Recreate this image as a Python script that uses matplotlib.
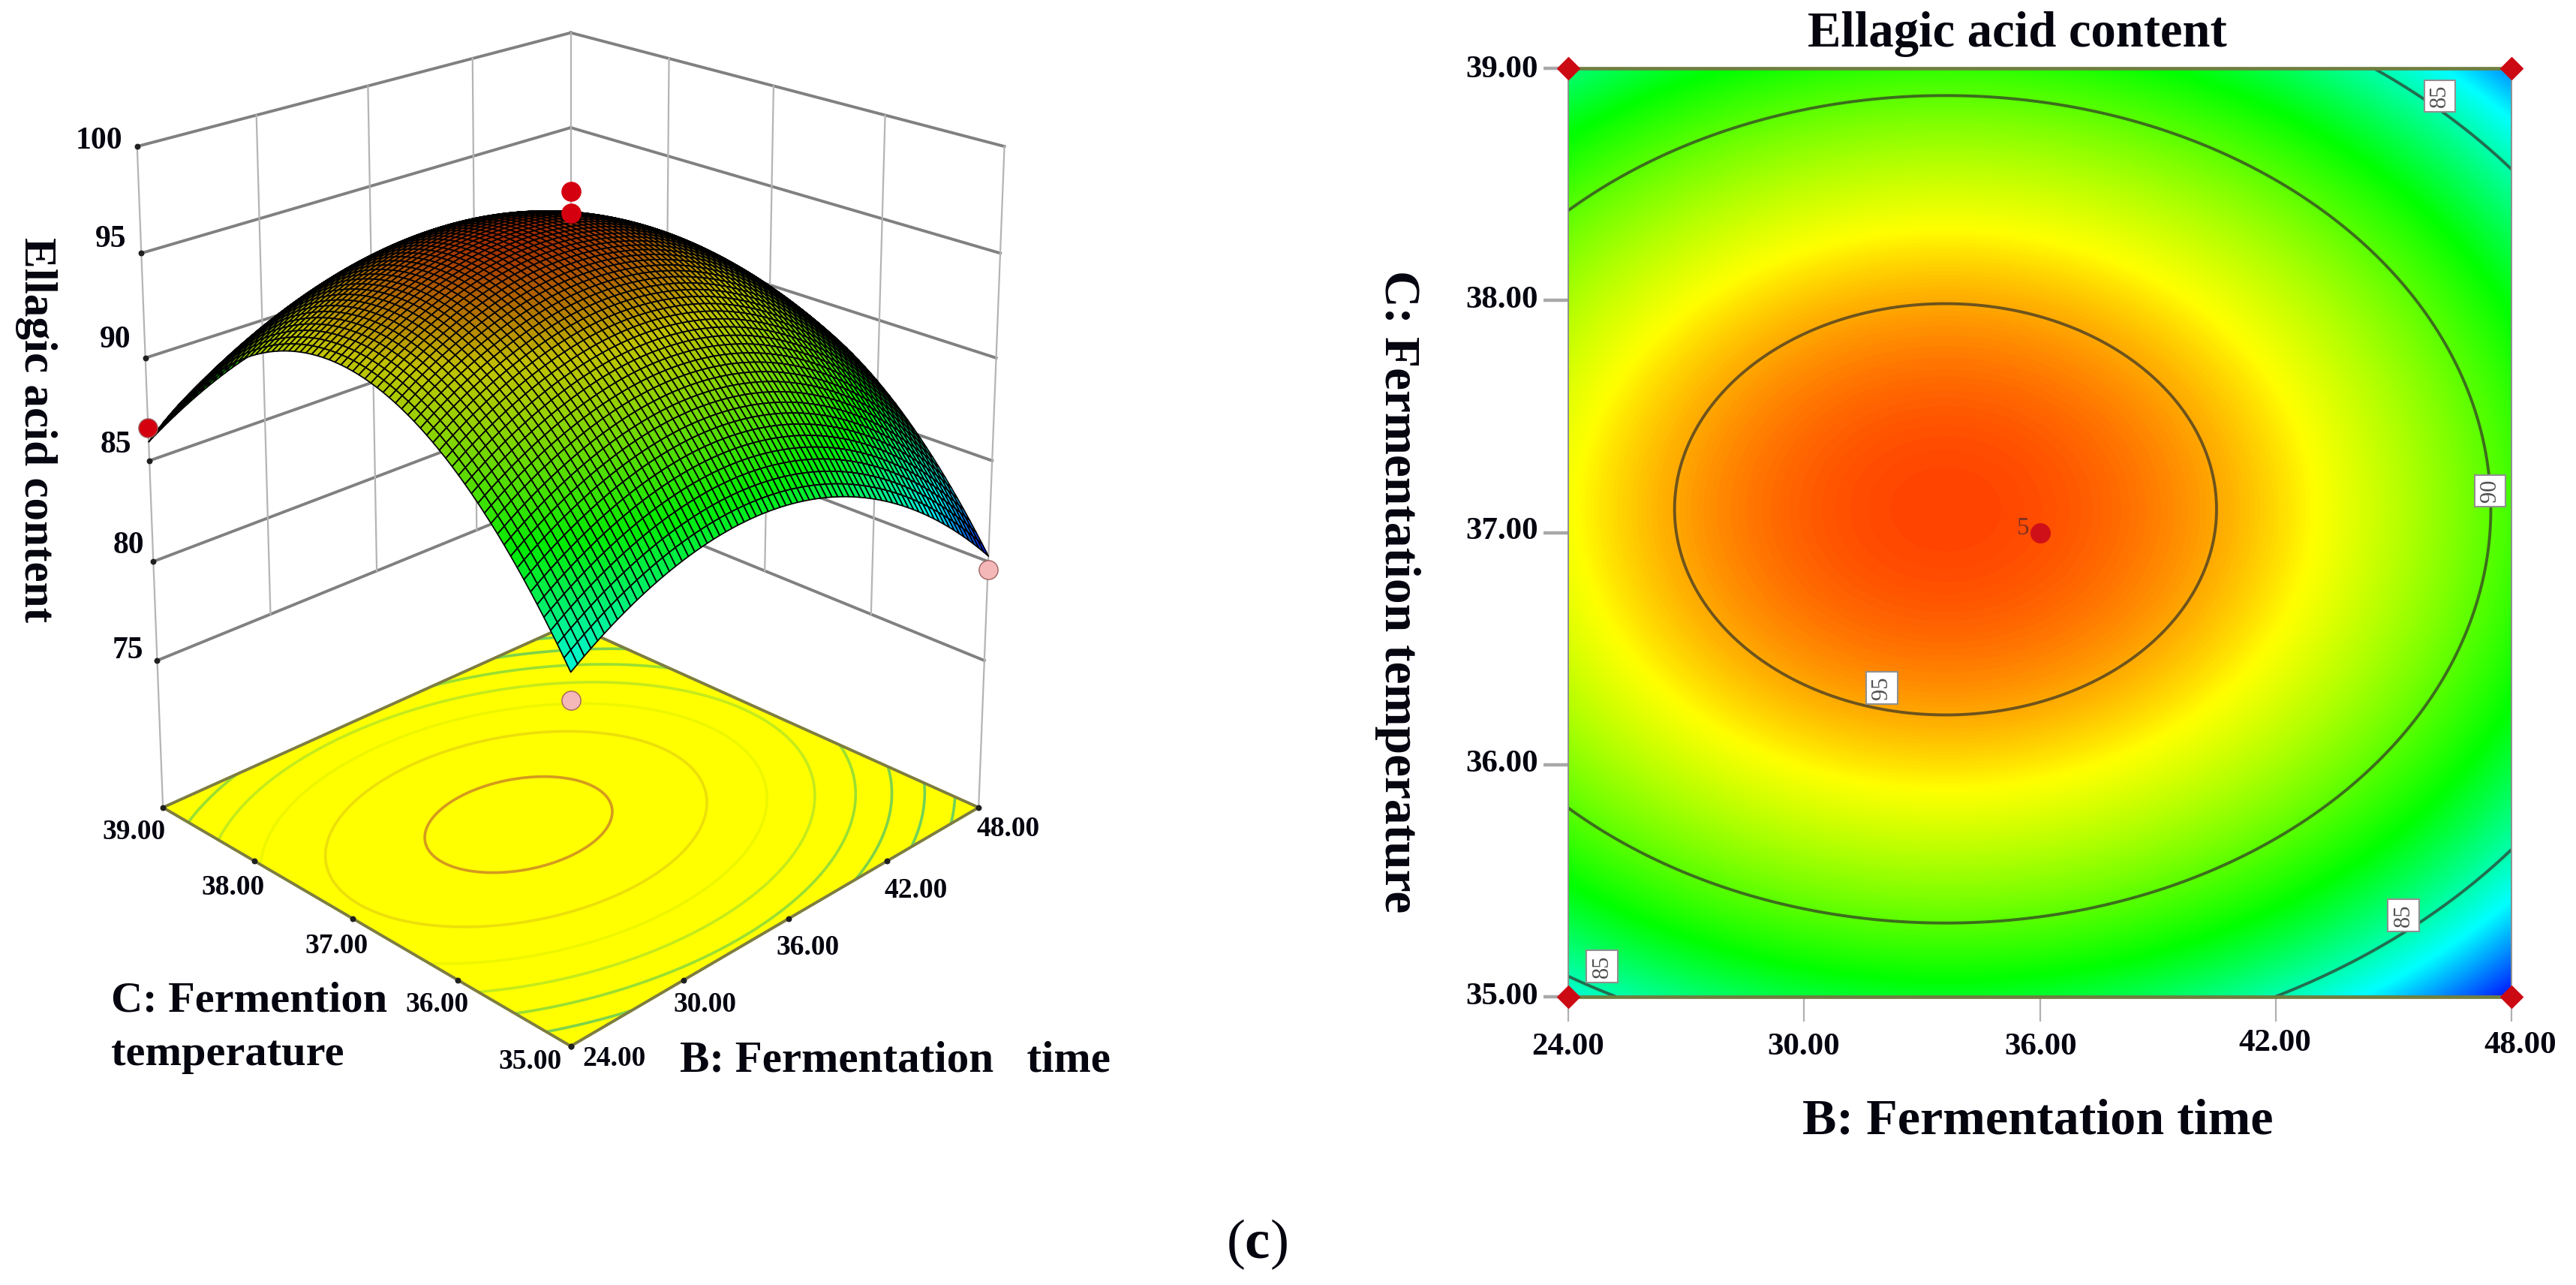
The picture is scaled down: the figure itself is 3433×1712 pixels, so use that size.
"""Response surface and contour plot of ellagic acid content."""

import matplotlib

matplotlib.use("Agg")
import matplotlib.pyplot as plt
import numpy as np
from matplotlib.colors import LinearSegmentedColormap, Normalize

WIDTH = 3433
HEIGHT = 1712

plt.rcParams["font.family"] = ["Liberation Serif", "DejaVu Serif"]
plt.rcParams["font.weight"] = "bold"
plt.rcParams["mathtext.fontset"] = "custom"
plt.rcParams["mathtext.rm"] = "Liberation Serif:weight=normal"
plt.rcParams["mathtext.bf"] = "Liberation Serif:weight=bold"

# Fermentation time and temperature at the tick positions
time_ticks = [24.0, 30.0, 36.0, 42.0, 48.0]
temp_ticks = [35.0, 36.0, 37.0, 38.0, 39.0]
content_ticks = [75, 80, 85, 90, 95, 100]

# Ellagic acid content, one row per temperature
content_t35 = [84.24, 86.98, 87.22, 84.99, 80.27]
content_t36 = [90.93, 93.66, 93.91, 91.68, 86.96]
content_t37 = [93.44, 96.17, 96.42, 94.19, 89.47]
content_t38 = [91.77, 94.50, 94.75, 92.51, 87.79]
content_t39 = [85.92, 88.65, 88.90, 86.66, 81.94]

# Design points: time, temperature, measured content
corner_time = [24.0, 24.0, 48.0, 48.0]
corner_temp = [35.0, 39.0, 35.0, 39.0]
corner_above = [False, True, False, True]
corner_content = [83.0, 86.6, 79.6, 83.0]
center_time = 36.0
center_temp = 37.0
center_content = [96.9, 97.9]

contour_levels = [85, 90, 95]
floor_levels = [82, 84, 86, 88, 90, 92, 94, 96]
floor_colors = [
    "#6fd25a", "#6fd25a", "#7ed24a", "#9ade32", "#c4ea1c",
    "#eef600", "#ecdf0a", "#d49a1e",
]

# label value, time, temperature
contour_labels = [
    ("85", 46.17, 38.88),
    ("90", 47.46, 37.18),
    ("95", 31.98, 36.33),
    ("85", 45.25, 35.35),
    ("85", 24.86, 35.13),
]

color_stops = [
    (80.0, "#0000ff"),
    (83.5, "#00ffff"),
    (88.0, "#00ff00"),
    (93.6, "#ffff00"),
    (97.75, "#ff0000"),
]
norm = Normalize(80.0, 97.75)
cmap = LinearSegmentedColormap.from_list(
    "response", [(norm(v), c) for v, c in color_stops]
)


def fit_surface(time_grid, temp_grid):
    """Fit a quadratic response model to the table and evaluate it on a grid."""
    tt, cc = np.meshgrid(time_ticks, temp_ticks)
    table = np.array([content_t35, content_t36, content_t37, content_t38, content_t39])

    def terms(b, c):
        return np.column_stack(
            [np.ones(b.size), b, c, b**2, c**2, b * c]
        )

    coef, *_ = np.linalg.lstsq(terms(tt.ravel(), cc.ravel()), table.ravel(), rcond=None)
    return (terms(time_grid.ravel(), temp_grid.ravel()) @ coef).reshape(time_grid.shape)


def put_text(fig, x, y, text, **kwargs):
    """Place figure text using pixel coordinates measured from the top left."""
    kwargs.setdefault("ha", "center")
    kwargs.setdefault("va", "center")
    return fig.text(x / WIDTH, 1 - y / HEIGHT, text, color="#050510", **kwargs)


def plot_surface_panel(fig):
    """Draw the 3D response surface with its walls and floor contours."""
    side_x, side_y = 1306, 1632
    cx, cy = 743, 671
    ax = fig.add_axes(
        [(cx - side_x / 2) / WIDTH, 1 - (cy + side_y / 2) / HEIGHT, side_x / WIDTH, side_y / HEIGHT],
        projection="3d",
        computed_zorder=False,
    )
    # the panel is stretched vertically, so keep the axes box as given
    ax.apply_aspect = lambda position=None: None
    floor_z = 67.4
    ax.set_xlim(24, 48)
    ax.set_ylim(35, 39)
    ax.set_zlim(floor_z, 100)
    ax.set_box_aspect((1, 1, 0.94))
    ax.set_proj_type("persp", focal_length=0.56)
    ax.view_init(elev=19, azim=-135)
    ax.set_axis_off()

    # Walls
    grid_kw = {"color": "#808080", "lw": 2.8, "zorder": 1}
    thin_kw = {"color": "#b4b4b4", "lw": 1.6, "zorder": 1}
    for z in content_ticks:
        ax.plot([24, 48], [39, 39], [z, z], **grid_kw)
        ax.plot([48, 48], [39, 35], [z, z], **grid_kw)
    for t in time_ticks[1:-1]:
        ax.plot([t, t], [39, 39], [75, 100], **thin_kw)
    for c in temp_ticks[1:-1]:
        ax.plot([48, 48], [c, c], [75, 100], **thin_kw)
    ax.plot([48, 48], [39, 39], [floor_z, 100], **thin_kw)
    ax.plot([24, 24], [39, 39], [floor_z, 100], **thin_kw)
    ax.plot([48, 48], [35, 35], [floor_z, 100], **thin_kw)

    # Floor with projected contours
    time_fl, temp_fl = np.meshgrid(np.linspace(24, 48, 121), np.linspace(35, 39, 121))
    content_fl = fit_surface(time_fl, temp_fl)
    ax.plot_surface(
        time_fl[[0, -1]][:, [0, -1]],
        temp_fl[[0, -1]][:, [0, -1]],
        np.full((2, 2), floor_z),
        color="#ffff00",
        shade=False,
        zorder=2,
    )
    ax.contour(
        time_fl, temp_fl, content_fl,
        levels=floor_levels, zdir="z", offset=floor_z,
        colors=floor_colors, linewidths=2.6, zorder=3,
    )
    edge_time = [24, 48, 48, 24, 24]
    edge_temp = [35, 35, 39, 39, 35]
    ax.plot(edge_time, edge_temp, [floor_z] * 5, color="#7d7d40", lw=2.8, zorder=4)

    # Tick marks on the floor edges and the height axis
    ax.scatter(time_ticks, [35] * 5, [floor_z] * 5, color="#202020", s=22, zorder=5, depthshade=False)
    ax.scatter([24] * 5, temp_ticks, [floor_z] * 5, color="#202020", s=22, zorder=5, depthshade=False)
    ax.scatter([24] * 6, [39] * 6, content_ticks, color="#202020", s=22, zorder=5, depthshade=False)

    # Response surface with a dense dark mesh, dimmer towards the summit
    time_s, temp_s = np.meshgrid(np.linspace(24, 48, 73), np.linspace(35, 39, 73))
    content_s = fit_surface(time_s, temp_s)
    shaded = cmap(norm(content_s))
    dim = np.interp(content_s, [84, 88, 92, 97], [0.97, 0.92, 0.82, 0.62])
    shaded[..., :3] *= dim[..., None]
    surf = ax.plot_surface(
        time_s, temp_s, content_s,
        facecolors=shaded,
        rstride=1, cstride=1, shade=False, zorder=6,
    )
    surf.set_edgecolor("#000000")
    surf.set_linewidth(1.25)

    # Design points above and below the surface
    for t, c, z, above in zip(corner_time, corner_temp, corner_content, corner_above):
        if t == 48.0 and c == 39.0:
            continue
        ax.scatter(
            [t], [c], [z], s=330, depthshade=False, zorder=7 if above else 5.5,
            color="#d40010" if above else "#f4b8b8", edgecolor="#a06060",
        )
    ax.scatter(
        [center_time] * 2, [center_temp] * 2, center_content,
        s=330, color="#d40010", depthshade=False, zorder=7,
    )

    # Labels
    label_kw = {"fontsize": 30}
    for z, (x, y) in zip(content_ticks, [(191, 867), (192, 727), (175, 593), (175, 453), (168, 319), (163, 188)]):
        put_text(fig, x, y, str(z), ha="right", **label_kw)
    temp_pos = [(706, 1415), (582, 1339), (449, 1260), (311, 1183), (179, 1108)]
    time_pos = [(819, 1411), (939, 1339), (1077, 1263), (1221, 1186), (1344, 1105)]
    for val, (x, y) in zip(temp_ticks, temp_pos):
        put_text(fig, x, y, f"{val:.2f}", fontsize=27)
    for val, (x, y) in zip(time_ticks, time_pos):
        put_text(fig, x, y, f"{val:.2f}", fontsize=27)
    put_text(fig, 48, 572, "Ellagic acid content", rotation=-90, fontsize=44)
    put_text(fig, 148, 1334, "C: Fermention", ha="left", fontsize=42)
    put_text(fig, 148, 1405, "temperature", ha="left", fontsize=42)
    put_text(fig, 906, 1413, "B: Fermentation   time", ha="left", fontsize=42.5)
    return ax


def plot_contour_panel(fig):
    """Draw the filled contour map with labelled levels and design points."""
    left, right, top, bottom = 2090, 3347, 91, 1328
    ax = fig.add_axes(
        [left / WIDTH, 1 - bottom / HEIGHT, (right - left) / WIDTH, (bottom - top) / HEIGHT]
    )
    time_g, temp_g = np.meshgrid(np.linspace(24, 48, 400), np.linspace(35, 39, 400))
    content_g = fit_surface(time_g, temp_g)
    ax.imshow(
        content_g, origin="lower", extent=(24, 48, 35, 39), aspect="auto",
        cmap=cmap, norm=norm, interpolation="bilinear",
    )
    ax.contour(
        time_g, temp_g, content_g, levels=contour_levels,
        colors="#303028", alpha=0.7, linewidths=2.8,
    )

    for text, t, c in contour_labels:
        ax.text(
            t, c, text, rotation=90, ha="center", va="center",
            fontsize=22, fontweight="normal", color="#505050",
            bbox={"boxstyle": "square,pad=0.2", "fc": "white", "ec": "#909090", "lw": 1.5},
        )

    ax.scatter(
        corner_time, corner_temp, marker="D", s=230, color="#cc0a14",
        clip_on=False, zorder=5,
    )
    ax.scatter([center_time], [center_temp], s=340, color="#d01018", zorder=5)
    ax.text(
        center_time - 0.42, center_temp + 0.02, "5", ha="center", va="center",
        fontsize=24, fontweight="normal", color="#803020",
    )

    ax.set_xticks(time_ticks)
    ax.set_yticks(temp_ticks)
    ax.set_xticklabels([])
    ax.set_yticklabels([])
    ax.tick_params(axis="x", length=24, width=1.6, color="#b0b0b0")
    ax.tick_params(axis="y", length=24, width=3.2, color="#a8a8a8")
    ax.spines["top"].set_color("#6f7f40")
    ax.spines["bottom"].set_color("#6f7f40")
    ax.spines["top"].set_linewidth(3.4)
    ax.spines["bottom"].set_linewidth(3.4)
    ax.spines["left"].set_color("#909090")
    ax.spines["right"].set_color("#909090")
    ax.spines["left"].set_linewidth(1.4)
    ax.spines["right"].set_linewidth(1.4)

    x_pos = [(2090, 1395), (2404, 1395), (2720, 1395), (3032, 1390), (3359, 1393)]
    y_pos = [1328, 1018, 708, 400, 93]
    for val, (x, y) in zip(time_ticks, x_pos):
        put_text(fig, x, y, f"{val:.2f}", fontsize=31)
    for val, y in zip(temp_ticks, y_pos):
        put_text(fig, 2050, y, f"{val:.2f}", ha="right", fontsize=31)
    put_text(fig, 2688, 46, "Ellagic acid content", fontsize=48)
    put_text(fig, 1862, 788, "C: Fermentation temperature", rotation=-90, fontsize=48.6)
    put_text(fig, 2716, 1494, "B: Fermentation time", fontsize=49)
    return ax


def main():
    """Build both panels and save the figure."""
    fig = plt.figure(figsize=(WIDTH / 100, HEIGHT / 100), dpi=100)
    plot_surface_panel(fig)
    plot_contour_panel(fig)
    put_text(fig, 1675, 1658, r"$\mathrm{(}\mathbf{c}\mathrm{)}$", fontsize=54)
    fig.savefig("out.png", dpi=100)


main()
